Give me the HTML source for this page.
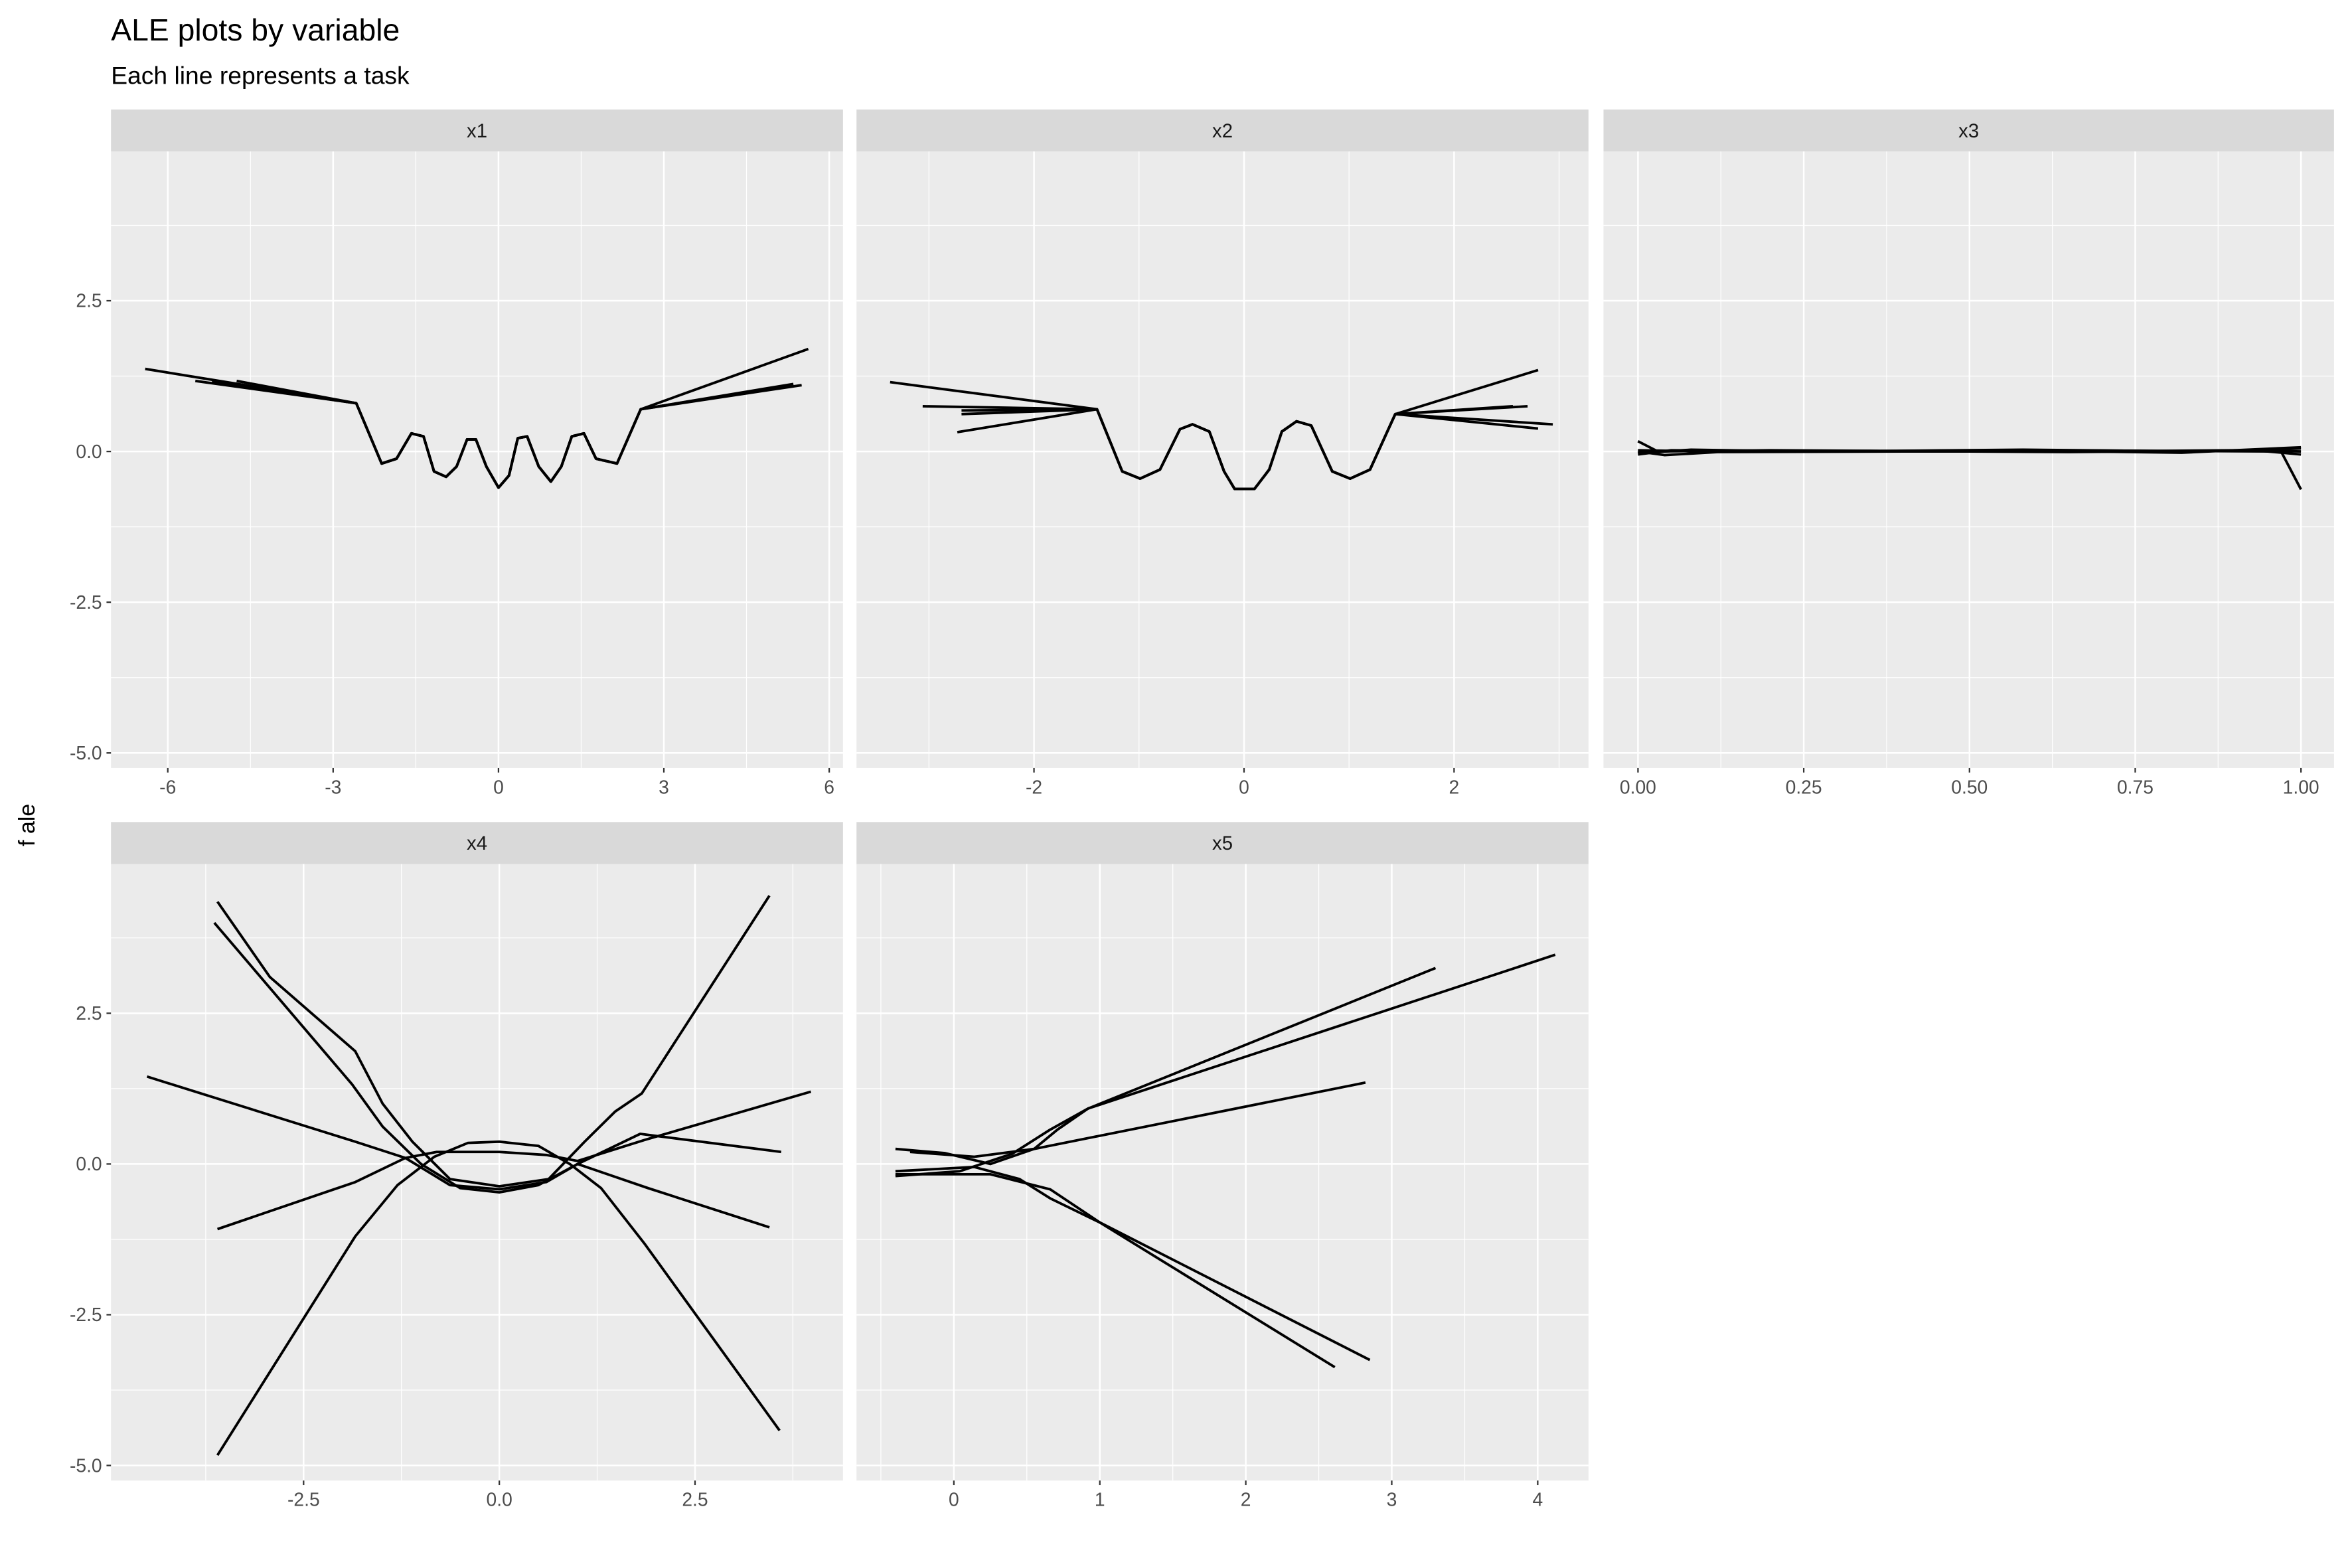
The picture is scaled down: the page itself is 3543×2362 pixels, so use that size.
<!DOCTYPE html>
<html><head><meta charset="utf-8"><style>
html,body{margin:0;padding:0;background:#fff}
svg{display:block;font-family:"Liberation Sans","DejaVu Sans",sans-serif}
</style></head><body>
<svg id="chart" width="3543" height="2362" viewBox="0 0 1568 1045.3" preserveAspectRatio="none" xmlns="http://www.w3.org/2000/svg">
<rect width="1568" height="1046" fill="#fff"/>
<text x="74" y="27" font-size="20.5" fill="#000">ALE plots by variable</text>
<text x="74" y="56" font-size="16.5" fill="#000">Each line represents a task</text>
<text transform="translate(23,550) rotate(-90)" text-anchor="middle" font-size="15" fill="#000">f ale</text>
</svg>
<script>
// ---- data ----
const panelNames = ["x1","x2","x3","x4","x5"];
const yTicks = [-5.0,-2.5,0,2.5];
const yTickLabels = ["-5.0","-2.5","0.0","2.5"];
const x1Ticks = [-6,-3,0,3,6];
const x1TickLabels = ["-6","-3","0","3","6"];
const x2Ticks = [-2,0,2];
const x2TickLabels = ["-2","0","2"];
const x3Ticks = [0,0.25,0.5,0.75,1];
const x3TickLabels = ["0.00","0.25","0.50","0.75","1.00"];
const x4Ticks = [-2.5,0,2.5];
const x4TickLabels = ["-2.5","0.0","2.5"];
const x5Ticks = [0,1,2,3,4];
const x5TickLabels = ["0","1","2","3","4"];

const x1Core = [[-2.58,0.8],[-2.12,-0.2],[-1.85,-0.12],[-1.58,0.3],[-1.36,0.25],[-1.17,-0.33],[-0.95,-0.42],[-0.76,-0.25],[-0.57,0.2],[-0.41,0.2],[-0.22,-0.25],[0,-0.6],[0.19,-0.4],[0.35,0.22],[0.52,0.25],[0.73,-0.25],[0.95,-0.5],[1.14,-0.25],[1.33,0.25],[1.55,0.3],[1.77,-0.12],[2.15,-0.2],[2.58,0.7]];
const x1LeftEnds = [[-6.41,1.37],[-5.5,1.17],[-4.75,1.17],[-5.2,1.15],[-4.9,1.12]];
const x1RightEnds = [[5.62,1.7],[5.35,1.12],[5.5,1.1],[4.95,1.05],[5.2,1.08]];

const x2Core = [[-1.4,0.7],[-1.16,-0.33],[-0.99,-0.45],[-0.8,-0.3],[-0.61,0.37],[-0.49,0.45],[-0.33,0.33],[-0.19,-0.33],[-0.09,-0.62],[0.1,-0.62],[0.24,-0.3],[0.36,0.33],[0.5,0.5],[0.64,0.43],[0.84,-0.33],[1.01,-0.45],[1.2,-0.3],[1.44,0.62]];
const x2LeftEnds = [[-3.37,1.15],[-3.06,0.75],[-2.69,0.68],[-2.69,0.62],[-2.73,0.32]];
const x2RightEnds = [[2.8,1.35],[2.7,0.75],[2.94,0.45],[2.8,0.38],[2.56,0.75]];

const x3Lines = [
 [[0,0.17],[0.03,0],[0.2,0.02],[0.5,0],[0.6,0.02],[0.97,0],[1,-0.63]],
 [[0,-0.05],[0.05,0.02],[0.3,0],[0.58,0.03],[0.85,0],[1,0.05]],
 [[0,0],[0.04,-0.06],[0.12,-0.01],[0.4,0],[0.7,0],[0.9,0.02],[1,0]],
 [[0,-0.03],[0.08,0.03],[0.25,0],[0.55,0.02],[0.82,-0.02],[1,0.07]],
 [[0,0.02],[0.1,0],[0.35,0.01],[0.65,-0.01],[0.93,0.02],[1,-0.05]]
];
const x4Lines = [
 [[-3.6,4.35],[-2.93,3.1],[-1.84,1.87],[-1.49,1.0],[-1.11,0.37],[-0.63,-0.25],[0,-0.37],[0.63,-0.25],[1.09,0.37],[1.48,0.87],[1.82,1.17],[3.45,4.45]],
 [[-3.6,-4.83],[-1.84,-1.2],[-1.3,-0.35],[-0.83,0.12],[-0.4,0.35],[0,0.37],[0.5,0.3],[0.9,0],[1.3,-0.4],[1.86,-1.33],[3.58,-4.42]],
 [[-3.64,4.0],[-1.88,1.32],[-1.49,0.62],[-1.0,0],[-0.5,-0.4],[0,-0.47],[0.5,-0.35],[1.0,0],[1.9,-0.4],[3.45,-1.05]],
 [[-4.5,1.45],[-1.84,0.37],[-1.2,0.1],[-0.63,-0.35],[0,-0.42],[0.6,-0.3],[1.0,0],[1.8,0.5],[3.6,0.2]],
 [[-3.6,-1.08],[-1.84,-0.3],[-1.2,0.1],[-0.8,0.2],[0,0.2],[0.6,0.15],[1.0,0.05],[1.86,0.4],[3.98,1.2]]
];
const x5Lines = [
 [[-0.4,0.25],[-0.06,0.18],[0.25,0],[0.55,0.25],[0.71,0.57],[0.92,0.92],[3.3,3.25]],
 [[-0.4,-0.2],[0.04,-0.12],[0.4,0.17],[0.66,0.57],[0.92,0.92],[4.12,3.47]],
 [[-0.3,0.2],[0.14,0.12],[0.55,0.25],[2.82,1.35]],
 [[-0.4,-0.12],[0.14,-0.05],[0.45,-0.25],[0.66,-0.57],[1,-0.97],[2.61,-3.37]],
 [[-0.4,-0.17],[0.25,-0.17],[0.66,-0.42],[1,-0.97],[2.85,-3.25]]
];

const NS="http://www.w3.org/2000/svg";
const svg=document.getElementById('chart');
function mk(tag,attrs,parent){const e=document.createElementNS(NS,tag);for(const k in attrs)e.setAttribute(k,attrs[k]);(parent||svg).appendChild(e);return e;}
function join(core,l,r){return [l].concat(core,[r]);}

const panels=[
 {name:"x1",x0:74,x1:562,row:0,dom:[-7.03,6.25],ticks:x1Ticks,labels:x1TickLabels,
  lines:x1LeftEnds.map((l,i)=>join(x1Core,l,x1RightEnds[i]))},
 {name:"x2",x0:571,x1:1059,row:0,dom:[-3.69,3.28],ticks:x2Ticks,labels:x2TickLabels,
  lines:x2LeftEnds.map((l,i)=>join(x2Core,l,x2RightEnds[i]))},
 {name:"x3",x0:1069,x1:1556,row:0,dom:[-0.052,1.0498],ticks:x3Ticks,labels:x3TickLabels,lines:x3Lines},
 {name:"x4",x0:74,x1:562,row:1,dom:[-4.96,4.39],ticks:x4Ticks,labels:x4TickLabels,lines:x4Lines},
 {name:"x5",x0:571,x1:1059,row:1,dom:[-0.667,4.348],ticks:x5Ticks,labels:x5TickLabels,lines:x5Lines}
];
const rows=[{strip:73,top:101,bot:512},{strip:548,top:576,bot:987}];
const yDom=[-5.25,4.975];

panels.forEach((p,pi)=>{
  const r=rows[p.row];
  const g=mk('g',{});
  
  
  const sx=v=>p.x0+(v-p.dom[0])/(p.dom[1]-p.dom[0])*(p.x1-p.x0);
  const sy=v=>r.bot-(v-yDom[0])/(yDom[1]-yDom[0])*(r.bot-r.top);
  mk('rect',{x:p.x0,y:r.top,width:p.x1-p.x0,height:r.bot-r.top,fill:'#EBEBEB'},g);
  const strip=mk('rect',{x:p.x0,y:r.strip,width:p.x1-p.x0,height:r.top-r.strip,fill:'#D9D9D9'},g);
  
  
  const st=mk('text',{x:(p.x0+p.x1)/2,y:(r.strip+r.top)/2+4.5,'text-anchor':'middle','font-size':'13',fill:'#1A1A1A'},g);
  st.textContent=p.name;
  
  
  for(let i=0;i<yTicks.length-1;i++){const v=(yTicks[i]+yTicks[i+1])/2;mk('line',{x1:p.x0,x2:p.x1,y1:sy(v),y2:sy(v),stroke:'#fff','stroke-width':0.55},g);}
  mk('line',{x1:p.x0,x2:p.x1,y1:sy(3.75),y2:sy(3.75),stroke:'#fff','stroke-width':0.55},g);
  const step=p.ticks[1]-p.ticks[0];
  for(let v=p.ticks[0]-step/2;v<=p.dom[1];v+=step){if(v>=p.dom[0])mk('line',{x1:sx(v),x2:sx(v),y1:r.top,y2:r.bot,stroke:'#fff','stroke-width':0.55},g);}
  yTicks.forEach((v,i)=>{
    mk('line',{x1:p.x0,x2:p.x1,y1:sy(v),y2:sy(v),stroke:'#fff','stroke-width':1.1},g);
    if(pi===0||pi===3){
      mk('line',{x1:p.x0-3,x2:p.x0,y1:sy(v),y2:sy(v),stroke:'#333','stroke-width':1},g);
      const t=mk('text',{x:p.x0-6,y:sy(v)+4.3,'text-anchor':'end','font-size':'12.5',fill:'#4D4D4D'},g);
      t.textContent=yTickLabels[i];
      
      
    }
  });
  p.ticks.forEach((v,i)=>{
    mk('line',{x1:sx(v),x2:sx(v),y1:r.top,y2:r.bot,stroke:'#fff','stroke-width':1.1},g);
    mk('line',{x1:sx(v),x2:sx(v),y1:r.bot,y2:r.bot+3,stroke:'#333','stroke-width':1},g);
    const t=mk('text',{x:sx(v),y:r.bot+17,'text-anchor':'middle','font-size':'12.5',fill:'#4D4D4D'},g);
    t.textContent=p.labels[i];
    
    
  });
  p.lines.forEach((ln,li)=>{
    const pl=mk('polyline',{points:ln.map(d=>sx(d[0]).toFixed(2)+','+sy(d[1]).toFixed(2)).join(' '),fill:'none',stroke:'#000','stroke-width':1.7,'stroke-linejoin':'round'},g);
    
    
  });
});
</script>
</body></html>
